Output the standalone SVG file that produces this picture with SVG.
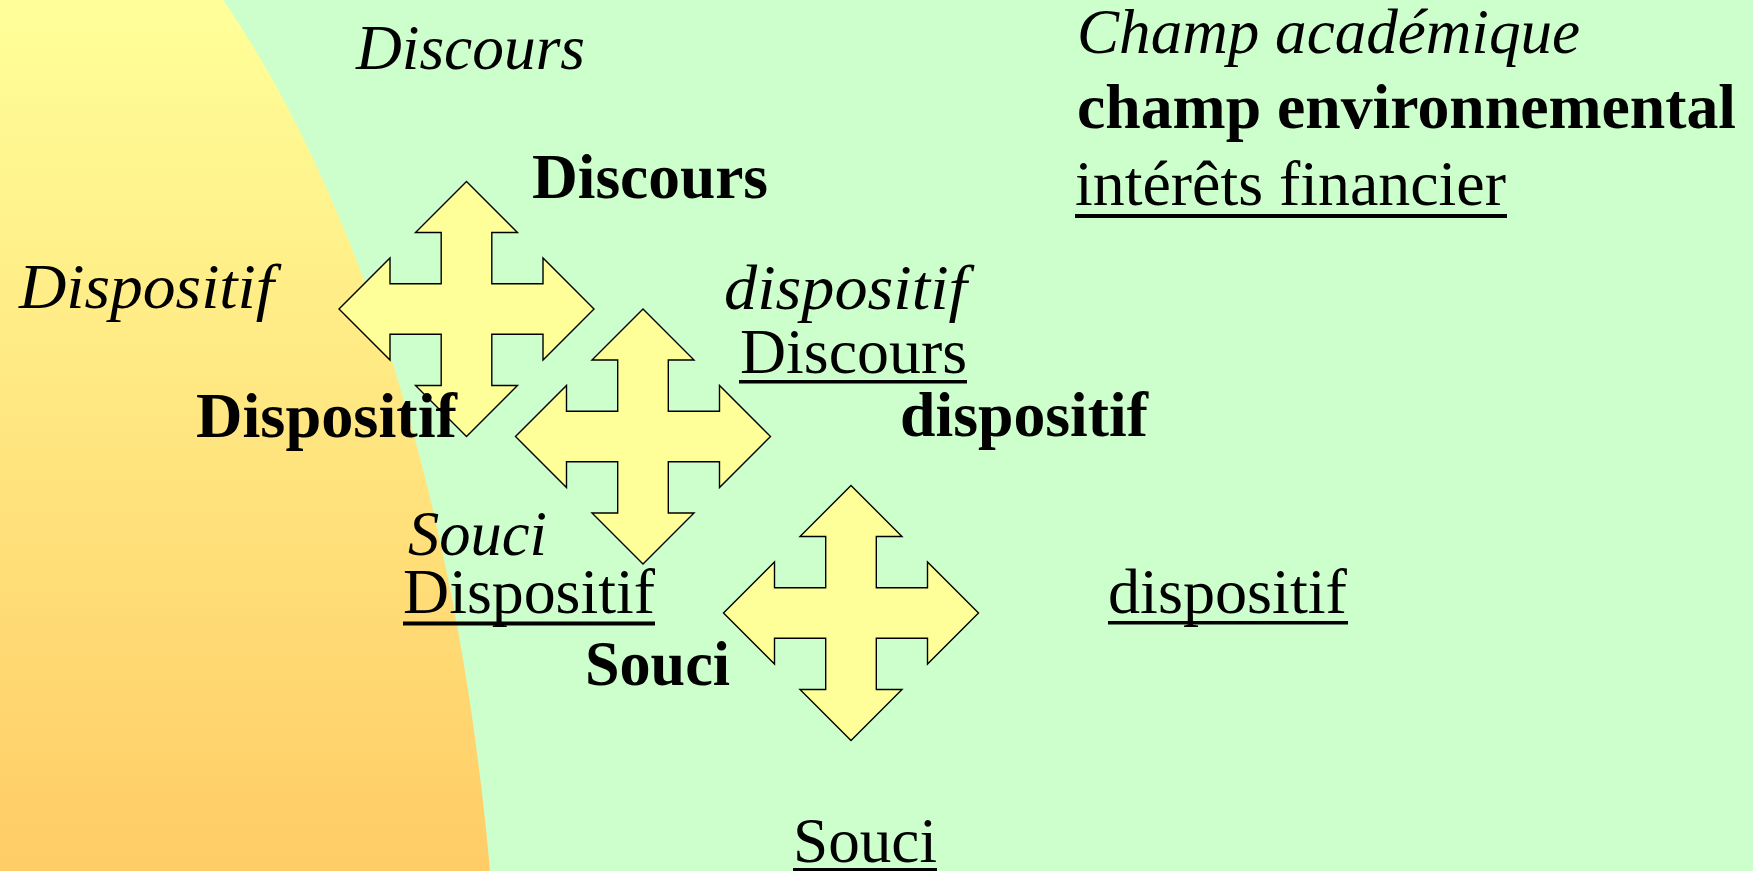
<svg xmlns="http://www.w3.org/2000/svg" xmlns:xlink="http://www.w3.org/1999/xlink" width="1753" height="871" viewBox="0 0 1753 871">
<style>
  text { font-family: "Liberation Serif", "Times New Roman", serif; font-size: 63px; fill: #000; }
  .i { font-style: italic; }
  .b { font-weight: bold; }
  .ul { fill: #000; }
  .arrow { fill: #FFFF99; stroke: #000; stroke-width: 1.4; stroke-linejoin: miter; }
</style>
<defs>
  <linearGradient id="warm" x1="0" y1="0" x2="0" y2="1">
    <stop offset="0" stop-color="#FFFF99"/>
    <stop offset="1" stop-color="#FFCC66"/>
  </linearGradient>
  <path id="quad" d="M0,-127.5 L51,-76.5 L25.3,-76.5 L25.3,-25.3 L76.5,-25.3 L76.5,-51 L127.5,0 L76.5,51 L76.5,25.3 L25.3,25.3 L25.3,76.5 L51,76.5 L0,127.5 L-51,76.5 L-25.3,76.5 L-25.3,25.3 L-76.5,25.3 L-76.5,51 L-127.5,0 L-76.5,-51 L-76.5,-25.3 L-25.3,-25.3 L-25.3,-76.5 L-51,-76.5 Z"/>
</defs>

<g id="background">
  <rect x="0" y="0" width="1753" height="871" fill="#CCFFCC"/>
  <path d="M0,0 L223,0 C320,140 450,420 490,871 L0,871 Z" fill="url(#warm)"/>
</g>

<g id="arrow1"><use xlink:href="#quad" href="#quad" class="arrow" transform="translate(466.5,309)"/></g>
<g id="arrow2"><use xlink:href="#quad" href="#quad" class="arrow" transform="translate(643,436.5)"/></g>
<g id="arrow3"><use xlink:href="#quad" href="#quad" class="arrow" transform="translate(851,613)"/></g>

<g id="connectors"></g>

<g id="legend">
  <text class="i" x="1077" y="53" textLength="503" lengthAdjust="spacingAndGlyphs">Champ académique</text>
  <text class="b" x="1077" y="128" textLength="659" lengthAdjust="spacingAndGlyphs">champ environnemental</text>
  <text x="1075" y="205" textLength="431" lengthAdjust="spacingAndGlyphs">intérêts financier</text>
  <rect class="ul" x="1075" y="214" width="432" height="4"/>
</g>

<g id="label-discours-i"><text class="i" x="356" y="69" textLength="229" lengthAdjust="spacingAndGlyphs">Discours</text></g>
<g id="label-discours-b"><text class="b" x="532" y="198" textLength="236" lengthAdjust="spacingAndGlyphs">Discours</text></g>
<g id="label-dispositif-i"><text class="i" x="19" y="308" textLength="255" lengthAdjust="spacingAndGlyphs">Dispositif</text></g>
<g id="label-dispositif-b"><text class="b" x="196" y="437" textLength="261" lengthAdjust="spacingAndGlyphs">Dispositif</text></g>
<g id="label-dispositif-i2"><text class="i" x="724" y="309" textLength="243" lengthAdjust="spacingAndGlyphs">dispositif</text></g>
<g id="label-discours-u">
  <text x="740" y="373" textLength="227" lengthAdjust="spacingAndGlyphs">Discours</text>
  <rect class="ul" x="739" y="380" width="228" height="3.5"/>
</g>
<g id="label-dispositif-b2"><text class="b" x="900" y="436" textLength="248" lengthAdjust="spacingAndGlyphs">dispositif</text></g>
<g id="label-souci-i"><text class="i" x="408" y="555" textLength="139" lengthAdjust="spacingAndGlyphs">Souci</text></g>
<g id="label-dispositif-u">
  <text x="403" y="613" textLength="252" lengthAdjust="spacingAndGlyphs">Dispositif</text>
  <rect class="ul" x="403" y="621.5" width="252" height="4"/>
</g>
<g id="label-souci-b"><text class="b" x="585" y="685" textLength="145" lengthAdjust="spacingAndGlyphs">Souci</text></g>
<g id="label-dispositif-u2">
  <text x="1108" y="613" textLength="239" lengthAdjust="spacingAndGlyphs">dispositif</text>
  <rect class="ul" x="1108" y="621" width="240" height="3.5"/>
</g>
<g id="label-souci-u">
  <text x="793" y="862" textLength="144" lengthAdjust="spacingAndGlyphs">Souci</text>
  <rect class="ul" x="793" y="868" width="144" height="3.5"/>
</g>
</svg>
